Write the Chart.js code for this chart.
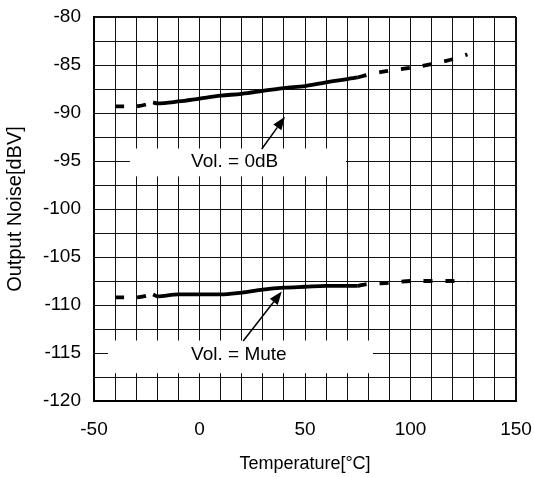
<!DOCTYPE html>
<html>
<head>
<meta charset="utf-8">
<script src="https://cdn.jsdelivr.net/npm/chart.js"></script>
<style>
  body { margin: 0; background: #fff; }
  #wrap { width: 534px; height: 477px; }
</style>
</head>
<body>
<div id="wrap"><canvas id="noiseChart"></canvas></div>
<script>
// Temperature [°C] vs output noise [dBV]
const tempSolid = [-22, -20, -10, 0, 10, 20, 30, 40, 50, 60, 75];
const noise0dBSolid = [-88.9, -89.0, -88.8, -88.5, -88.2, -88.0, -87.7, -87.4, -87.2, -86.8, -86.3];
const noiseMuteSolid = [-108.9, -109.1, -108.9, -108.9, -108.9, -108.7, -108.4, -108.2, -108.1, -108.0, -108.0];

// dashed parts outside the guaranteed range
const tempLowDash = [-40, -30, -22];
const noise0dBLowDash = [-89.3, -89.3, -88.9];
const noiseMuteLowDash = [-109.2, -109.2, -108.9];

const tempHighDash = [75, 80, 90, 100, 110, 120, 127];
const noise0dBHighDash = [-86.3, -86.0, -85.6, -85.3, -84.9, -84.4, -83.9];
const noiseMuteHighDash = [-108.0, -107.8, -107.7, -107.5, -107.5, -107.5, -107.6];

const xTickLabels = [-50, 0, 50, 100, 150];
const yTickLabels = [-120, -115, -110, -105, -100, -95, -90, -85, -80];

const FONT = "'Liberation Sans', Arial, sans-serif";

function series(xs, ys, dashed) {
  return {
    data: xs.map((x, i) => ({ x: x, y: ys[i] })),
    borderColor: '#000',
    borderWidth: 3.8,
    borderDash: dashed ? [9, 13] : [],
    pointRadius: 0,
    fill: false,
    cubicInterpolationMode: 'monotone'
  };
}

// label boxes + arrows, in data units
const notes = [
  { box: [-33, 69.4, -93.7, -96.6], text: 'Vol. = 0dB', tx: -4, ty: -95.1, from: [29.5, -93.75], to: [40.5, -90.4] },
  { box: [-43.4, 82.2, -113.7, -117.1], text: 'Vol. = Mute', tx: -4, ty: -115.2, from: [20.7, -113.75], to: [39, -108.6] }
];

const notePlugin = {
  id: 'notes',
  beforeDatasetsDraw(chart) {
    const { ctx, scales: { x, y } } = chart;
    ctx.save();
    ctx.fillStyle = '#fff';
    notes.forEach(n => {
      const x0 = x.getPixelForValue(n.box[0]), x1 = x.getPixelForValue(n.box[1]);
      const y0 = y.getPixelForValue(n.box[2]), y1 = y.getPixelForValue(n.box[3]);
      ctx.fillRect(x0, y0, x1 - x0, y1 - y0);
    });
    ctx.restore();
  },
  afterDatasetsDraw(chart) {
    const { ctx, scales: { x, y } } = chart;
    ctx.save();
    ctx.fillStyle = '#000';
    ctx.strokeStyle = '#000';
    ctx.font = '19px ' + FONT;
    ctx.textAlign = 'left';
    ctx.textBaseline = 'middle';
    notes.forEach(n => {
      ctx.fillText(n.text, x.getPixelForValue(n.tx), y.getPixelForValue(n.ty));
      const fx = x.getPixelForValue(n.from[0]), fy = y.getPixelForValue(n.from[1]);
      const tx = x.getPixelForValue(n.to[0]), ty = y.getPixelForValue(n.to[1]);
      const ang = Math.atan2(ty - fy, tx - fx);
      const len = 13, half = 5;
      const bx = tx - len * Math.cos(ang), by = ty - len * Math.sin(ang);
      ctx.lineWidth = 1.5;
      ctx.beginPath();
      ctx.moveTo(fx, fy);
      ctx.lineTo(bx, by);
      ctx.stroke();
      ctx.beginPath();
      ctx.moveTo(tx, ty);
      ctx.lineTo(bx + half * Math.sin(ang), by - half * Math.cos(ang));
      ctx.lineTo(bx - half * Math.sin(ang), by + half * Math.cos(ang));
      ctx.closePath();
      ctx.fill();
    });
    ctx.restore();
  }
};

const ctx = document.getElementById('noiseChart').getContext('2d');
new Chart(ctx, {
  type: 'line',
  data: {
    datasets: [
      series(tempSolid, noise0dBSolid, false),
      series(tempLowDash, noise0dBLowDash, true),
      series(tempHighDash, noise0dBHighDash, true),
      series(tempSolid, noiseMuteSolid, false),
      series(tempLowDash, noiseMuteLowDash, true),
      series(tempHighDash, noiseMuteHighDash, true)
    ]
  },
  options: {
    responsive: true,
    maintainAspectRatio: false,
    animation: false,
    layout: { padding: { top: 17, right: 18, left: 0, bottom: 0 } },
    plugins: {
      legend: { display: false },
      tooltip: { enabled: false }
    },
    scales: {
      x: {
        type: 'linear',
        min: -50,
        max: 150,
        afterFit: s => { s.height = 76; },
        border: { color: '#000', width: 2 },
        grid: {
          color: '#111',
          tickLength: 17,
          tickColor: 'rgba(0,0,0,0)',
          lineWidth: c => (c.index === 20 ? 2 : 1)
        },
        ticks: {
          stepSize: 10,
          autoSkip: false,
          maxRotation: 0,
          padding: 0,
          color: '#000',
          font: { family: FONT, size: 19 },
          callback: v => (xTickLabels.includes(v) ? v : '')
        },
        title: {
          display: true,
          text: 'Temperature[°C]',
          color: '#000',
          font: { family: FONT, size: 18 },
          padding: { top: 0, bottom: 2 }
        }
      },
      y: {
        min: -120,
        max: -80,
        afterFit: s => { s.width = 94; },
        border: { color: '#000', width: 2 },
        grid: {
          color: '#111',
          tickLength: 13,
          tickColor: 'rgba(0,0,0,0)',
          lineWidth: c => (c.index === 16 ? 2 : 1)
        },
        ticks: {
          stepSize: 2.5,
          autoSkip: false,
          padding: 0,
          color: '#000',
          font: { family: FONT, size: 19 },
          callback: v => (yTickLabels.includes(v) ? v : '')
        },
        title: {
          display: true,
          text: 'Output Noise[dBV]',
          color: '#000',
          font: { family: FONT, size: 20 },
          padding: { top: 3, bottom: 0 }
        }
      }
    }
  },
  plugins: [notePlugin]
});
</script>
</body>
</html>
